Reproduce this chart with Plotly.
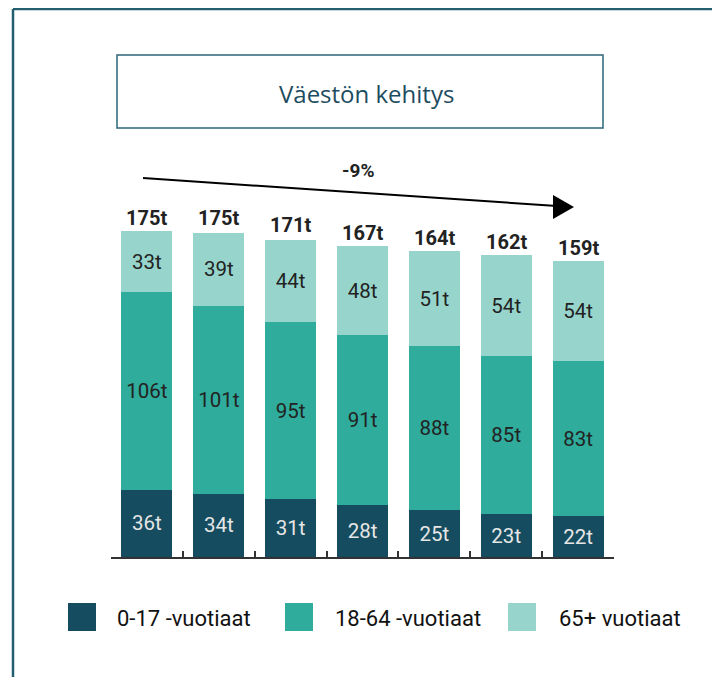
import plotly.graph_objects as go

W, H = 720, 677
OFF = 8  # page body margin offset compensation

categories = ["1", "2", "3", "4", "5", "6", "7"]
series_names = ["0-17 -vuotiaat", "18-64 -vuotiaat", "65+ vuotiaat"]
age_0_17 = [36, 34, 31, 28, 25, 23, 22]
age_18_64 = [106, 101, 95, 91, 88, 85, 83]
age_65 = [33, 39, 44, 48, 51, 54, 54]
totals = [175, 175, 171, 167, 164, 162, 159]
change_label = "-9%"
title_text = "Väestön kehitys"

colors = ["#154c5f", "#2fac9b", "#97d5cc"]
text_colors = ["#e6e6e6", "#222222", "#222222"]


def px(x):
    return (x - OFF) / W


def py(y):
    return 1 - (y - OFF) / H


fig = go.Figure()
for name, vals, col, tcol in zip(series_names, [age_0_17, age_18_64, age_65], colors, text_colors):
    fig.add_trace(go.Bar(
        x=categories, y=vals, name=name,
        marker=dict(color=col, line=dict(width=0)),
        width=0.71,
        text=[f"{v}t" for v in vals],
        textposition="inside",
        insidetextanchor="middle",
        constraintext="none",
        textangle=0,
        textfont=dict(family="Roboto", size=20.5, color=tcol),
        showlegend=False,
        hoverinfo="skip",
    ))

annotations = []
for i, t in enumerate(totals):
    annotations.append(dict(
        x=i, y=t, xref="x", yref="y", text=f"<b>{t}t</b>", showarrow=False,
        yanchor="bottom", yshift=-1,
        font=dict(family="Roboto", size=20, color="#222222"),
    ))

# title
annotations.append(dict(
    x=px(366), y=py(93), xref="paper", yref="paper", text=title_text, showarrow=False,
    xanchor="center", yanchor="middle",
    font=dict(family="Open Sans", size=24, color="#1d4c60"),
))
# change label
annotations.append(dict(
    x=px(358), y=py(171), xref="paper", yref="paper", text=f"<b>{change_label}</b>",
    showarrow=False, xanchor="center", yanchor="middle",
    font=dict(family="Roboto", size=19, color="#222222"),
))

shapes = []
border_col = "#245f70"
# frame lines
shapes.append(dict(type="line", xref="paper", yref="paper", x0=px(13), y0=py(9), x1=px(728), y1=py(9),
                   line=dict(color=border_col, width=2.5)))
shapes.append(dict(type="line", xref="paper", yref="paper", x0=px(13), y0=py(9), x1=px(13), y1=py(685),
                   line=dict(color=border_col, width=2.5)))
# title box
shapes.append(dict(type="rect", xref="paper", yref="paper", x0=px(117), y0=py(55), x1=px(603), y1=py(128),
                   line=dict(color="#2b6577", width=1.5), fillcolor="rgba(0,0,0,0)"))
# trend arrow
shapes.append(dict(type="line", xref="paper", yref="paper", x0=px(143), y0=py(178), x1=px(557), y1=py(206),
                   line=dict(color="#000000", width=2)))
shapes.append(dict(type="path", xref="paper", yref="paper",
                   path=f"M {px(574)} {py(207)} L {px(553)} {py(195)} L {px(553)} {py(219)} Z",
                   fillcolor="#000000", line=dict(color="#000000", width=0)))

# legend (drawn manually for large square swatches)
leg_sq_x = [68, 285, 508]
leg_txt_x = [115, 333, 557]
for name, col, sx, tx in zip(series_names, colors, leg_sq_x, leg_txt_x):
    shapes.append(dict(type="rect", xref="paper", yref="paper", x0=px(sx), y0=py(603), x1=px(sx + 28),
                       y1=py(631), fillcolor=col, line=dict(width=0)))
    annotations.append(dict(x=px(tx), y=py(618), xref="paper", yref="paper", text=name, showarrow=False,
                            xanchor="left", yanchor="middle",
                            font=dict(family="Roboto", size=22, color="#111111")))

axis_y = 557
scale = (axis_y - 231) / 175.0
ymax = 200
top_px = axis_y - ymax * scale

fig.update_layout(
    width=W, height=H,
    margin=dict(l=0, r=0, t=0, b=0),
    paper_bgcolor="white", plot_bgcolor="white",
    barmode="stack",
    showlegend=False,
    xaxis=dict(domain=[px(111), px(614)], range=[-0.5, 6.5], type="category",
               showticklabels=False, showgrid=False, zeroline=False,
               showline=True, linecolor="#333333", linewidth=1.5,
               ticks="inside", tickson="boundaries", ticklen=6, tickcolor="#333333", tickwidth=1.5),
    yaxis=dict(domain=[py(axis_y), py(top_px)], range=[0, ymax], visible=False),
    shapes=shapes,
    annotations=annotations,
    uniformtext=dict(mode=False),
)

fig.write_html("out.html")
